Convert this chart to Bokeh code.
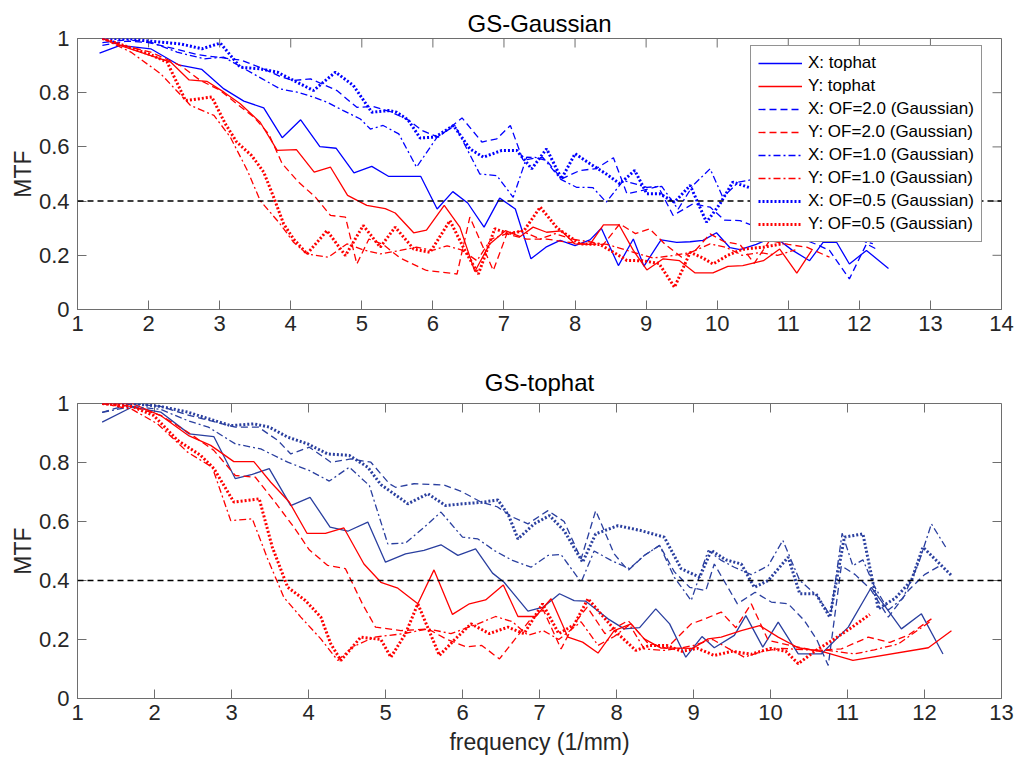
from bokeh.plotting import figure
from bokeh.models import Legend, LegendItem, Span, FixedTicker, PrintfTickFormatter, Range1d
from bokeh.layouts import column
from bokeh.embed import file_html
from bokeh.resources import INLINE

# ---------------- data: GS-Gaussian (top) ----------------
g_x_tophat_x = [1.31,1.6,2.03,2.42,2.75,3.06,3.34,3.62,3.88,4.14,4.41,4.64,4.89,5.14,5.38,5.6,5.83,6.06,6.28,6.49,6.72,6.94,7.16,7.38,7.59,7.79,8.0,8.21,8.37,8.61,8.82,8.97,9.21,9.43,9.62,9.8,9.99,10.18,10.32,10.55,10.8,11.05,11.3,11.49,11.68,11.86,12.1,12.41]
g_x_tophat_y = [0.946,0.975,0.962,0.903,0.886,0.814,0.769,0.744,0.634,0.70,0.601,0.595,0.504,0.528,0.491,0.491,0.491,0.371,0.435,0.393,0.304,0.411,0.371,0.187,0.23,0.255,0.236,0.257,0.30,0.162,0.26,0.16,0.257,0.248,0.25,0.255,0.283,0.228,0.221,0.24,0.27,0.22,0.18,0.248,0.248,0.168,0.218,0.151]

g_y_tophat_x = [1.35,1.65,2.03,2.31,2.57,2.82,3.06,3.29,3.57,3.81,4.08,4.33,4.56,4.80,5.07,5.33,5.47,5.73,5.91,6.16,6.38,6.59,6.80,7.02,7.23,7.41,7.6,7.81,8.0,8.21,8.40,8.62,8.82,9.01,9.24,9.47,9.69,9.94,10.15,10.36,10.65,10.88,11.12,11.33]
g_y_tophat_y = [1.0,0.97,0.937,0.913,0.847,0.842,0.802,0.759,0.691,0.587,0.59,0.507,0.525,0.421,0.384,0.372,0.356,0.283,0.293,0.384,0.304,0.14,0.242,0.291,0.269,0.304,0.285,0.29,0.242,0.24,0.312,0.312,0.218,0.146,0.187,0.18,0.135,0.135,0.159,0.162,0.18,0.223,0.134,0.218]

g_x_of20_x = [1.35,1.7,2.0,2.4,2.7,3.0,3.3,3.6,3.85,4.04,4.28,4.65,4.93,5.16,5.4,5.65,5.85,6.08,6.41,6.69,6.9,7.09,7.27,7.45,7.6,7.81,8.07,8.3,8.54,8.73,8.95,9.17,9.38,9.66,9.9,10.1,10.32,10.6,10.9,11.2,11.4,11.58,11.86,12.1,12.24]
g_x_of20_y = [0.975,0.99,0.985,0.96,0.94,0.93,0.92,0.89,0.86,0.845,0.851,0.808,0.746,0.749,0.73,0.70,0.66,0.636,0.707,0.618,0.63,0.679,0.55,0.56,0.55,0.482,0.513,0.52,0.56,0.427,0.44,0.454,0.347,0.39,0.378,0.33,0.328,0.3,0.28,0.26,0.24,0.218,0.113,0.242,0.223]

g_y_of20_x = [1.35,1.7,2.03,2.45,2.73,3.0,3.24,3.48,3.69,3.88,4.11,4.35,4.56,4.77,4.93,5.1,5.3,5.54,5.91,6.34,6.52,6.85,7.04,7.32,7.6,7.85,8.12,8.4,8.63,8.85,9.05,9.27,9.5,9.7,9.9,10.1,10.32,10.52,10.74,11.0,11.26,11.58]
g_y_of20_y = [1.0,0.97,0.95,0.9,0.845,0.81,0.759,0.71,0.648,0.538,0.47,0.414,0.347,0.341,0.168,0.26,0.24,0.19,0.144,0.131,0.341,0.144,0.279,0.26,0.26,0.25,0.242,0.24,0.316,0.28,0.298,0.24,0.193,0.22,0.279,0.25,0.24,0.17,0.255,0.24,0.23,0.193]

g_x_of10_x = [1.35,1.7,2.03,2.40,2.78,3.06,3.31,3.6,3.85,4.09,4.32,4.51,4.74,4.98,5.12,5.3,5.52,5.77,6.06,6.31,6.66,6.9,7.13,7.32,7.55,7.8,8.02,8.25,8.44,8.68,9.01,9.22,9.45,9.66,9.9,10.08,10.3,10.5,10.7,11.0,11.3,11.6,11.9,12.19]
g_x_of10_y = [0.985,0.995,0.987,0.95,0.925,0.931,0.894,0.851,0.814,0.802,0.784,0.765,0.734,0.703,0.666,0.679,0.648,0.525,0.636,0.679,0.5,0.494,0.414,0.562,0.56,0.48,0.451,0.45,0.396,0.476,0.451,0.454,0.37,0.458,0.519,0.414,0.47,0.48,0.42,0.38,0.33,0.30,0.26,0.243]

g_y_of10_x = [1.35,1.75,2.17,2.59,2.92,3.15,3.39,3.57,3.85,4.04,4.23,4.53,4.79,5.02,5.26,5.54,5.77,5.99,6.2,6.4,6.62,6.82,7.04,7.25,7.51,7.72,7.95,8.2,8.45,8.65,8.82,9.1,9.38,9.62,9.9,10.12,10.35,10.6,10.85,11.1]
g_y_of10_y = [1.0,0.95,0.87,0.753,0.716,0.636,0.513,0.402,0.316,0.248,0.205,0.193,0.242,0.22,0.205,0.218,0.23,0.218,0.235,0.22,0.18,0.26,0.28,0.29,0.26,0.28,0.26,0.25,0.24,0.225,0.211,0.19,0.199,0.21,0.242,0.23,0.2,0.21,0.2,0.22]

g_x_of05_x = [1.35,1.7,2.03,2.45,2.75,3.01,3.29,3.57,3.81,4.04,4.32,4.63,4.88,5.14,5.38,5.49,5.65,5.82,6.03,6.29,6.52,6.71,6.97,7.18,7.39,7.60,7.81,8.0,8.21,8.44,8.63,8.84,9.01,9.19,9.40,9.62,9.85,10.04,10.22,10.45,10.7,10.95]
g_x_of05_y = [1.0,1.0,0.99,0.98,0.962,0.983,0.894,0.888,0.876,0.845,0.808,0.876,0.827,0.728,0.734,0.728,0.70,0.633,0.636,0.679,0.593,0.562,0.587,0.587,0.519,0.593,0.482,0.575,0.538,0.5,0.464,0.513,0.427,0.427,0.396,0.458,0.322,0.39,0.47,0.45,0.42,0.40]

g_y_of05_x = [1.35,1.7,2.03,2.26,2.52,2.89,3.08,3.24,3.45,3.62,3.76,3.90,4.04,4.23,4.51,4.77,5.02,5.26,5.47,5.73,5.96,6.24,6.45,6.64,6.87,7.06,7.28,7.51,7.75,8.07,8.35,8.55,8.73,8.95,9.18,9.40,9.62,9.8,9.94,10.15,10.36,10.65,10.93]
g_y_of05_y = [1.0,0.97,0.94,0.913,0.771,0.784,0.685,0.618,0.568,0.507,0.414,0.316,0.26,0.205,0.291,0.199,0.31,0.23,0.304,0.223,0.211,0.328,0.218,0.131,0.298,0.28,0.29,0.378,0.3,0.242,0.24,0.21,0.181,0.18,0.17,0.082,0.211,0.19,0.168,0.2,0.223,0.23,0.243]

# ---------------- data: GS-tophat (bottom) ----------------
t_x_tophat_x = [1.32,1.71,2.08,2.45,2.77,3.05,3.27,3.49,3.77,4.02,4.28,4.51,4.77,5.0,5.26,5.5,5.72,5.94,6.17,6.39,6.54,6.85,7.05,7.26,7.45,7.60,7.89,8.10,8.30,8.51,8.69,8.90,9.11,9.27,9.53,9.68,9.9,10.10,10.36,10.66,11.01,11.31,11.70,11.96,12.24]
t_x_tophat_y = [0.937,0.988,0.971,0.897,0.888,0.745,0.76,0.779,0.654,0.682,0.581,0.567,0.598,0.462,0.49,0.502,0.521,0.485,0.507,0.425,0.394,0.296,0.31,0.355,0.332,0.33,0.27,0.236,0.24,0.304,0.253,0.14,0.21,0.172,0.214,0.281,0.174,0.259,0.151,0.151,0.242,0.377,0.236,0.287,0.151]

t_y_tophat_x = [1.32,1.71,2.08,2.45,2.73,3.03,3.29,3.51,3.75,3.98,4.22,4.46,4.72,4.94,5.16,5.42,5.63,5.87,6.09,6.30,6.53,6.72,6.95,7.15,7.37,7.56,7.76,7.97,8.19,8.36,8.58,8.80,8.99,9.19,9.36,9.62,9.86,10.10,10.36,10.70,11.07,12.05,12.35]
t_y_tophat_y = [1.0,1.0,0.959,0.89,0.858,0.803,0.803,0.733,0.666,0.56,0.56,0.578,0.456,0.394,0.374,0.321,0.436,0.285,0.321,0.334,0.385,0.278,0.278,0.338,0.208,0.191,0.154,0.23,0.253,0.202,0.171,0.171,0.17,0.202,0.208,0.23,0.247,0.208,0.172,0.157,0.129,0.172,0.23]

t_x_of20_x = [1.32,1.71,2.08,2.45,2.75,3.05,3.35,3.60,3.77,4.01,4.29,4.55,4.81,5.05,5.13,5.37,5.76,6.0,6.24,6.45,6.65,6.85,7.11,7.32,7.54,7.73,7.97,8.15,8.36,8.56,8.75,8.95,9.16,9.27,9.57,9.8,10.01,10.23,10.44,10.6,10.75,10.92,11.1,11.3,11.53,11.79,12.0,12.2]
t_x_of20_y = [0.97,1.0,0.99,0.96,0.94,0.92,0.92,0.875,0.829,0.852,0.801,0.812,0.801,0.728,0.716,0.728,0.724,0.7,0.666,0.65,0.615,0.592,0.637,0.6,0.473,0.637,0.49,0.434,0.485,0.519,0.43,0.377,0.366,0.456,0.321,0.36,0.327,0.321,0.264,0.2,0.112,0.45,0.42,0.37,0.276,0.366,0.42,0.45]

t_y_of20_x = [1.32,1.71,2.08,2.45,2.77,3.05,3.31,3.55,3.81,4.01,4.25,4.48,4.70,4.87,5.2,5.55,5.8,6.05,6.25,6.48,6.67,6.87,7.05,7.28,7.45,7.62,7.85,8.15,8.4,8.65,8.97,9.15,9.36,9.55,9.75,9.97,10.25,10.57,10.92,11.27,11.55,11.79,12.09]
t_y_of20_y = [1.0,0.99,0.96,0.9,0.841,0.756,0.75,0.671,0.581,0.504,0.451,0.44,0.321,0.242,0.23,0.236,0.2,0.175,0.18,0.134,0.197,0.264,0.3,0.168,0.253,0.31,0.22,0.264,0.19,0.17,0.253,0.27,0.293,0.24,0.321,0.197,0.18,0.163,0.168,0.208,0.19,0.215,0.27]

t_x_of10_x = [1.32,1.71,2.08,2.45,2.7,3.05,3.38,3.73,4.01,4.27,4.53,4.79,5.03,5.26,5.5,5.72,6.0,6.20,6.41,6.65,6.89,7.11,7.28,7.54,7.71,7.93,8.17,8.36,8.56,8.75,8.97,9.19,9.35,9.53,9.75,9.97,10.16,10.38,10.6,10.78,10.93,11.07,11.2,11.35,11.53,11.72,11.92,12.09,12.29]
t_x_of10_y = [0.97,0.99,0.98,0.94,0.92,0.863,0.846,0.801,0.773,0.737,0.784,0.722,0.524,0.527,0.58,0.632,0.547,0.541,0.502,0.468,0.445,0.485,0.488,0.394,0.5,0.468,0.44,0.485,0.519,0.411,0.332,0.502,0.47,0.445,0.42,0.45,0.536,0.4,0.35,0.28,0.56,0.45,0.47,0.38,0.3,0.34,0.456,0.592,0.507]

t_y_of10_x = [1.32,1.71,2.04,2.43,2.75,2.99,3.27,3.47,3.68,3.90,4.16,4.38,4.57,4.85,5.24,5.55,5.85,6.2,6.43,6.65,6.85,7.05,7.25,7.54,7.76,7.97,8.17,8.36,8.62,8.82,9.0,9.25,9.45,9.66,9.9,10.15,10.45,10.75,11.09,11.35,11.66,12.09]
t_y_of10_y = [1.0,0.98,0.931,0.835,0.784,0.603,0.609,0.473,0.343,0.276,0.202,0.129,0.174,0.208,0.22,0.236,0.22,0.253,0.278,0.26,0.214,0.23,0.2,0.26,0.18,0.21,0.25,0.168,0.163,0.17,0.18,0.2,0.17,0.14,0.16,0.17,0.165,0.163,0.151,0.165,0.185,0.264]

t_x_of05_x = [1.32,1.71,2.08,2.43,2.68,2.99,3.29,3.49,3.73,3.99,4.25,4.53,4.77,4.94,5.2,5.29,5.55,5.78,6.0,6.25,6.46,6.6,6.72,6.93,7.13,7.32,7.56,7.73,8.02,8.32,8.62,8.84,9.08,9.23,9.42,9.62,9.79,9.97,10.23,10.38,10.59,10.77,10.96,11.2,11.40,11.62,11.83,11.98,12.35]
t_x_of05_y = [1.0,1.0,0.99,0.971,0.95,0.925,0.931,0.92,0.886,0.863,0.829,0.824,0.784,0.725,0.677,0.66,0.694,0.654,0.66,0.665,0.673,0.62,0.541,0.592,0.62,0.569,0.462,0.558,0.586,0.569,0.547,0.44,0.411,0.502,0.47,0.456,0.377,0.4,0.479,0.355,0.355,0.276,0.547,0.558,0.304,0.34,0.4,0.513,0.417]

t_y_of05_x = [1.32,1.71,1.99,2.30,2.6,2.77,3.03,3.36,3.53,3.73,3.96,4.16,4.29,4.42,4.68,4.94,5.07,5.26,5.42,5.70,5.9,6.11,6.35,6.59,6.8,7.04,7.25,7.45,7.63,8.02,8.25,8.43,8.65,8.85,9.05,9.27,9.5,9.75,10.0,10.2,10.36,10.59,10.83,11.05,11.29]
t_y_of05_y = [1.0,0.99,0.959,0.875,0.824,0.78,0.666,0.677,0.513,0.377,0.332,0.276,0.185,0.129,0.208,0.2,0.14,0.22,0.321,0.146,0.2,0.253,0.22,0.242,0.22,0.321,0.22,0.25,0.338,0.219,0.163,0.18,0.18,0.16,0.17,0.146,0.16,0.15,0.17,0.16,0.118,0.163,0.202,0.24,0.285]

labels = ["X: tophat", "Y: tophat", "X: OF=2.0 (Gaussian)", "Y: OF=2.0 (Gaussian)",
          "X: OF=1.0 (Gaussian)", "Y: OF=1.0 (Gaussian)", "X: OF=0.5 (Gaussian)", "Y: OF=0.5 (Gaussian)"]
threshold = 0.4
y_ticks = [0, 0.2, 0.4, 0.6, 0.8, 1]

FONT = "Liberation Sans"
AX = "#6e6e6e"
TXT = "#262626"
TICK_PX = 9

styles = [("solid", 1.3), ("solid", 1.3), ("7 4", 1.3), ("7 4", 1.3),
          ("7 3 2 3", 1.3), ("7 3 2 3", 1.3), ("2 2", 3), ("2 2", 3)]


def make_fig(title, xmax, height, top, bottom, right, xlabel, standoff):
    p = figure(width=1017, height=height, x_range=Range1d(1, xmax), y_range=Range1d(0, 1),
               output_backend="svg", toolbar_location=None,
               min_border_left=77, min_border_right=right,
               min_border_top=top, min_border_bottom=bottom)
    p.title.text = title
    p.title.align = "center"
    p.title.text_font = FONT
    p.title.text_font_size = "24px"
    p.title.text_font_style = "normal"
    p.title.text_color = "black"
    p.title.standoff = standoff
    p.xgrid.visible = False
    p.ygrid.visible = False
    p.outline_line_color = AX
    p.outline_line_width = 1
    p.background_fill_color = "white"
    p.border_fill_color = "white"
    for ax in (p.xaxis[0], p.yaxis[0]):
        ax.axis_line_color = AX
        ax.major_tick_line_color = AX
        ax.major_tick_in = TICK_PX
        ax.major_tick_out = 0
        ax.minor_tick_line_color = None
        ax.major_label_text_font = FONT
        ax.major_label_text_font_size = "22px"
        ax.major_label_text_color = TXT
        ax.axis_label_text_font = FONT
        ax.axis_label_text_font_size = "23px"
        ax.axis_label_text_font_style = "normal"
        ax.axis_label_text_color = TXT
    x_ticks = list(range(1, xmax + 1))
    p.xaxis.ticker = FixedTicker(ticks=x_ticks)
    p.xaxis.major_label_standoff = 6
    p.yaxis.ticker = FixedTicker(ticks=y_ticks)
    p.yaxis.formatter = PrintfTickFormatter(format="%g")
    p.yaxis.major_label_standoff = 8
    p.yaxis.axis_label = "MTF"
    p.yaxis.axis_label_standoff = 0
    if xlabel:
        p.xaxis.axis_label = xlabel
        p.xaxis.axis_label_standoff = 6
    frame_w = 1017 - 77 - right
    frame_h = height - top - bottom
    dy = TICK_PX / frame_h
    dx = TICK_PX * (xmax - 1) / frame_w
    # mirrored inward ticks on the top and right edges of the box
    p.segment(x0=x_ticks, y0=[1] * len(x_ticks), x1=x_ticks, y1=[1 - dy] * len(x_ticks),
              line_color=AX, line_width=1)
    p.segment(x0=[xmax] * len(y_ticks), y0=y_ticks, x1=[xmax - dx] * len(y_ticks), y1=y_ticks,
              line_color=AX, line_width=1)
    p.add_layout(Span(location=threshold, dimension="width", line_color="black",
                      line_dash="6 4", line_width=1.5))
    return p


top = make_fig("GS-Gaussian", 14, 350, 38, 41, 14, None, 4)
bot = make_fig("GS-tophat", 13, 420, 53, 72, 16, "frequency (1/mm)", 15)

blue_top, red = "#0000ff", "#ff0000"
blue_bot = "#2a3f9f"

top_series = [(g_x_tophat_x, g_x_tophat_y), (g_y_tophat_x, g_y_tophat_y),
              (g_x_of20_x, g_x_of20_y), (g_y_of20_x, g_y_of20_y),
              (g_x_of10_x, g_x_of10_y), (g_y_of10_x, g_y_of10_y),
              (g_x_of05_x, g_x_of05_y), (g_y_of05_x, g_y_of05_y)]
bot_series = [(t_x_tophat_x, t_x_tophat_y), (t_y_tophat_x, t_y_tophat_y),
              (t_x_of20_x, t_x_of20_y), (t_y_of20_x, t_y_of20_y),
              (t_x_of10_x, t_x_of10_y), (t_y_of10_x, t_y_of10_y),
              (t_x_of05_x, t_x_of05_y), (t_y_of05_x, t_y_of05_y)]

items = []
for i, ((xs, ys), (dash, lw)) in enumerate(zip(top_series, styles)):
    col = blue_top if i % 2 == 0 else red
    r = top.line(xs, ys, line_color=col, line_width=lw, line_dash=dash)
    items.append(LegendItem(label=labels[i], renderers=[r]))

for i, ((xs, ys), (dash, lw)) in enumerate(zip(bot_series, styles)):
    col = blue_bot if i % 2 == 0 else red
    bot.line(xs, ys, line_color=col, line_width=lw, line_dash=dash)

legend = Legend(items=items, location=(673, 67), label_text_font=FONT,
                label_text_font_size="17px", label_text_color="black",
                border_line_color=TXT, border_line_width=1, background_fill_color="white",
                background_fill_alpha=1.0, padding=7, spacing=3, label_height=20,
                glyph_height=20, glyph_width=44, label_standoff=6, margin=0)
top.add_layout(legend)

layout = column(top, bot, spacing=0)
open("out.html", "w").write(file_html(layout, INLINE))
